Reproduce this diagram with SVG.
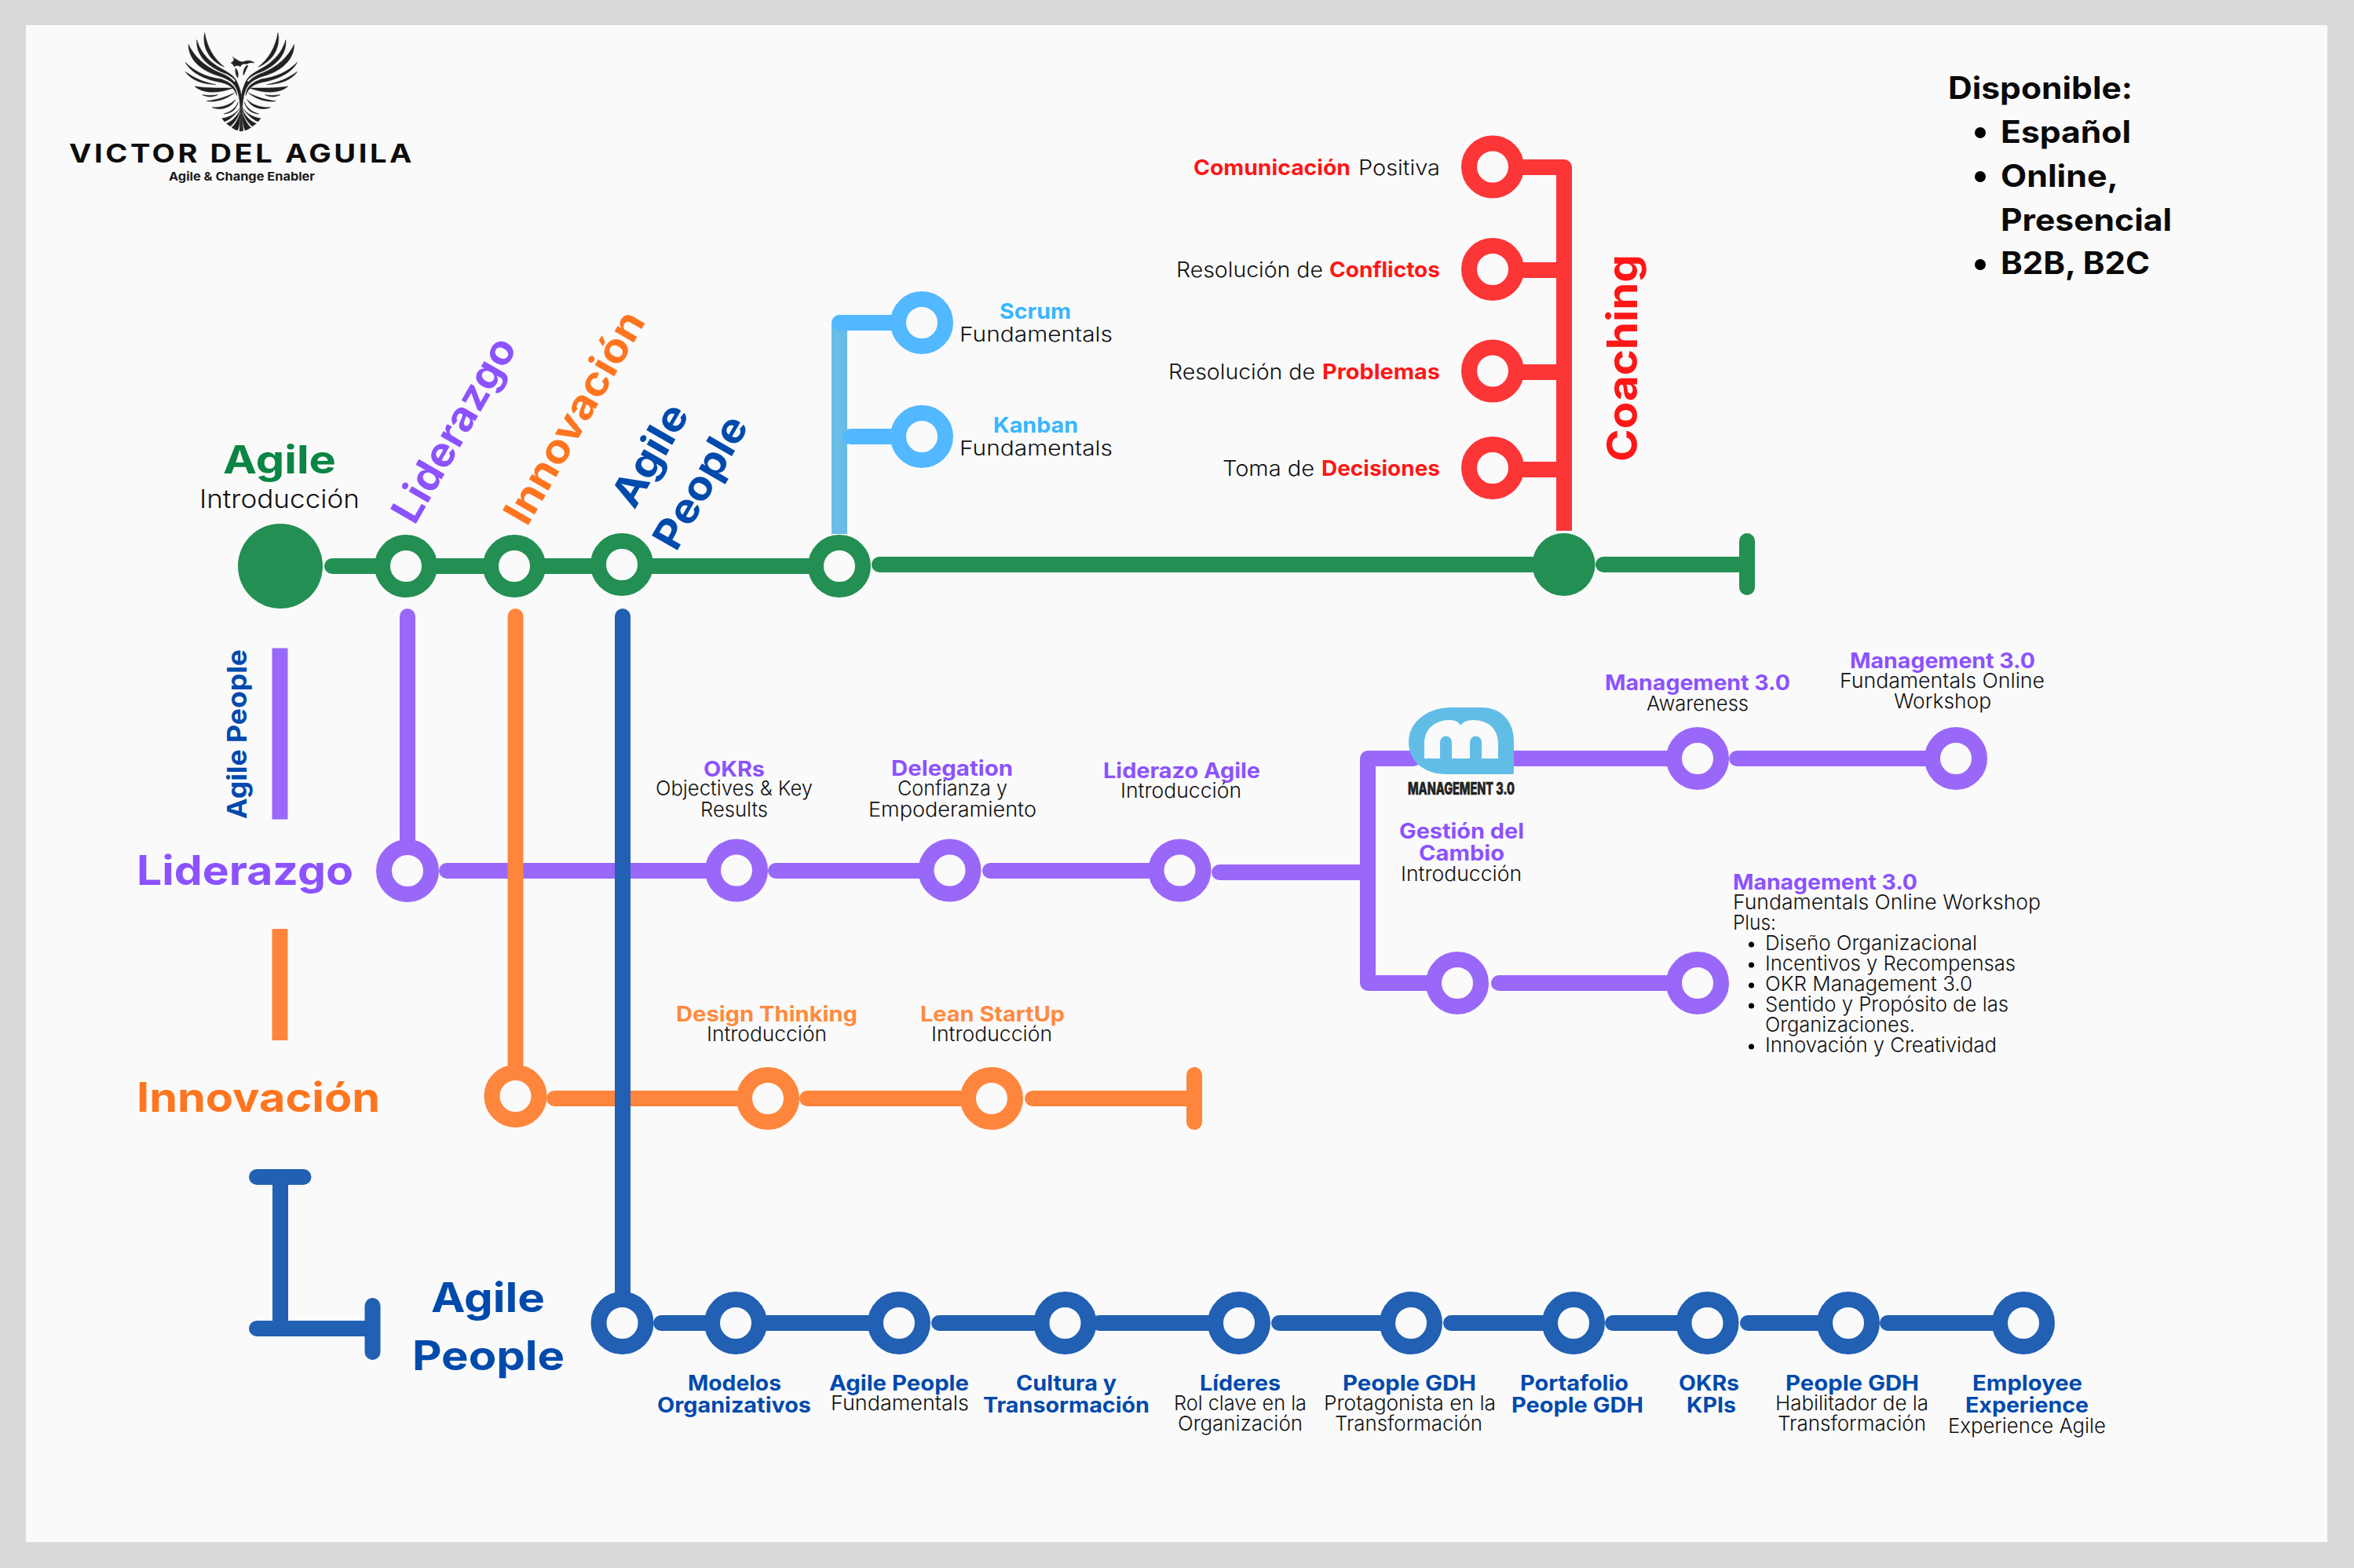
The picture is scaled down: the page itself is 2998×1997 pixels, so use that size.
<svg xmlns="http://www.w3.org/2000/svg" xmlns:xlink="http://www.w3.org/1999/xlink" width="2998" height="1997" viewBox="0 0 2998 1997">
<style>
text{font-family:"Inter","Noto Sans","Liberation Sans",sans-serif;}
.b{font-weight:700;font-size:27px;}
.r{font-weight:300;font-size:26px;fill:#111;}
.h{font-weight:700;font-size:52px;}
.d{font-weight:700;font-size:39px;fill:#0a0a0a;}
.tp{fill:#8c52ff}.to{fill:#ff8a40}.tb{fill:#004aad}.tr{fill:#ff1616}.tc{fill:#38b6ff}.tg{fill:#0a8543}.toi{fill:#ff751f}
.l{fill:none;stroke-width:20;stroke-linecap:round;stroke-linejoin:round}
.lg{stroke:#238f53}.lp{stroke:#9a68f8}.lo{stroke:#fd863c}.lb{stroke:#2160b3}.lr{stroke:#fc3537}.lc{stroke:#52b8ff}.lc2{stroke:#68bce6}
.n{fill:#fafafa;stroke-width:20}
.e{fill:#222;stroke:#222;stroke-width:1.5}
</style>
<defs>
<g id="wing">
<path d="M122,35 C112,85 135,140 197,166 C155,132 132,90 122,35Z"/>
<path d="M92,62 C88,120 130,165 205,192 C232,205 245,220 250,238 C245,205 215,188 185,172 C140,145 108,115 92,62Z"/>
<path d="M60,80 C60,135 105,180 175,200 C215,212 240,230 250,262 C250,225 215,200 180,188 C125,165 85,130 60,80Z"/>
<path d="M48,148 C70,190 125,215 185,225 C215,232 235,245 245,275 C245,240 215,222 185,212 C130,205 85,185 48,148Z"/>
<path d="M48,184 C70,215 110,232 165,233 C120,225 85,210 48,184Z"/>
<path d="M84,240 C115,268 175,268 232,246 C190,246 135,248 84,240Z"/>
<path d="M113,272 C135,282 150,282 172,272 C150,275 135,275 113,272Z"/>
<path d="M130,296 C165,302 205,290 235,265 C205,280 170,292 130,296Z"/>
<path d="M150,320 C185,335 225,320 240,290 C220,310 190,322 150,320Z"/>
<path d="M240,218 C262,245 268,290 258,340 C258,295 252,255 232,228Z"/>
<path d="M195,345 C225,345 245,325 250,300 C240,325 220,338 195,345Z"/>
<path d="M188,362 C215,360 240,345 258,322 C235,355 215,368 198,375Z"/>
<path d="M205,382 C225,375 245,355 258,330 C250,360 235,380 220,393Z"/>
<path d="M225,397 C240,385 252,360 260,335 C258,365 255,390 248,408 L238,405Z"/>
<path d="M262,325 L255,410 L262,411Z"/>
</g>
</defs>
<rect width="2998" height="1997" fill="#d9d9d9"/>
<rect x="33" y="32" width="2931" height="1932" fill="#fafafa"/>

<g id="logo">
<g class="e" transform="translate(220,30) scale(.33333)">
<use xlink:href="#wing" href="#wing"/>
<use xlink:href="#wing" href="#wing" transform="translate(524,0) scale(-1,1)"/>
<path d="M222,150 C232,145 240,135 228,128 C248,138 255,148 270,146 C285,140 300,140 312,150 C298,148 290,150 283,155 C272,152 262,155 258,165 C250,158 240,160 235,165 C232,158 228,153 222,150Z"/>
<path d="M240,170 C250,180 252,195 248,208 C240,195 238,182 240,170Z"/>
<path d="M283,160 C272,170 268,185 270,198 C278,185 280,172 288,162Z"/>
</g>
<text x="88" y="207" font-size="32" font-weight="700" fill="#0d0d0d" letter-spacing="3" textLength="440" lengthAdjust="spacingAndGlyphs">VICTOR DEL AGUILA</text>
<text x="215" y="230" font-size="15" font-weight="700" fill="#1a1a1a" textLength="186" lengthAdjust="spacingAndGlyphs">Agile &amp; Change Enabler</text>
</g>

<g id="disponible">
<text class="d" x="2481" y="126" textLength="235" lengthAdjust="spacingAndGlyphs">Disponible:</text>
<circle cx="2522" cy="169" r="7"/><circle cx="2522" cy="225" r="7"/><circle cx="2522" cy="337" r="7"/>
<text class="d" x="2548" y="182" textLength="166" lengthAdjust="spacingAndGlyphs">Español</text>
<text class="d" x="2548" y="238" textLength="150" lengthAdjust="spacingAndGlyphs">Online,</text>
<text class="d" x="2548" y="294" textLength="218" lengthAdjust="spacingAndGlyphs">Presencial</text>
<text class="d" x="2548" y="349" textLength="190" lengthAdjust="spacingAndGlyphs">B2B, B2C</text>
</g>

<g id="connectors">
<path class="l lp" style="stroke-linecap:butt" d="M356.500,825.500V1043.500"/>
<path class="l lo" style="stroke-linecap:butt" d="M356.500,1183V1325"/>
<path class="l lb" d="M327,1499H386.500M357,1499V1692M327,1692H474.500M474.500,1663V1722"/>
<path class="l lp" d="M569,1109H900M988,1109H1180M1261,1109H1470M1553,1111H1742"/>
<path class="l lp" d="M519,785V1075"/>
<path class="l lp" d="M1742,966V1252M1742,966H1800M1742,1252H1825M1928,966H2130M2212,966H2460M1909,1252H2130"/>
<path class="l lo" d="M706,1399H945M1028,1399H1230M1315,1399H1521M1521,1369V1429"/>
<path class="l lo" d="M656.500,785V1365"/>
<path class="l lb" d="M793,785V1650"/>
<path class="l lb" d="M842,1685H1110M1196,1685H1325M1400,1685H1545M1629,1685H1765M1848,1685H1975M2054,1685H2140M2226,1685H2320M2404,1685H2545"/>
<path class="l lg" d="M423,721H490M540,721H625M680,721H755L785,720M810,721H1040M1120,719H1960M2042,719H2225M2225,689V748"/>
<path class="l lc2" style="stroke-linecap:butt" d="M1069,411V680"/>
<path class="l lc" d="M1069,411H1140M1083,556H1140"/>
<path class="l lr" style="stroke-linecap:butt" d="M1992,676V223"/>
<path class="l lr" d="M1930,213H1992V225"/>
<path class="l lr" style="stroke-linecap:butt" d="M1930,344H1992M1930,474H1992M1930,598H1992"/>
</g>

<g id="node-agile"><circle cx="357" cy="721" r="54" fill="#238f53"/>
<text class="tg" x="284" y="603" font-size="50" font-weight="700" textLength="144" lengthAdjust="spacingAndGlyphs">Agile</text>
<text x="254" y="647" font-size="33" font-weight="300" fill="#111" textLength="204" lengthAdjust="spacingAndGlyphs">Introducción</text></g>
<g id="node-liderazgo-start"><circle class="n lg" cx="517" cy="721" r="30"/>
<text class="h tp" transform="translate(528,670) rotate(-60)" textLength="263" lengthAdjust="spacingAndGlyphs">Liderazgo</text></g>
<g id="node-innovacion-start"><circle class="n lg" cx="655" cy="721" r="30"/>
<text class="h toi" transform="translate(671,672) rotate(-60)" textLength="304" lengthAdjust="spacingAndGlyphs">Innovación</text></g>
<g id="node-people-start"><circle class="n lg" cx="792" cy="719" r="30"/>
<text class="h tb" transform="translate(808,650) rotate(-60)" textLength="142" lengthAdjust="spacingAndGlyphs">Agile</text>
<text class="h tb" transform="translate(861,704) rotate(-60)" textLength="187" lengthAdjust="spacingAndGlyphs">People</text></g>
<g id="node-scrum-hub"><circle class="n lg" cx="1069" cy="721" r="30"/></g>
<g id="node-scrum"><circle class="n lc" cx="1174" cy="411" r="30"/>
<text class="b tc" x="1273" y="406" textLength="91" lengthAdjust="spacingAndGlyphs">Scrum</text>
<text class="r" x="1222" y="435" textLength="195" lengthAdjust="spacingAndGlyphs">Fundamentals</text></g>
<g id="node-kanban"><circle class="n lc" cx="1174" cy="556" r="30"/>
<text class="b tc" x="1265" y="551" textLength="108" lengthAdjust="spacingAndGlyphs">Kanban</text>
<text class="r" x="1222" y="580" textLength="195" lengthAdjust="spacingAndGlyphs">Fundamentals</text></g>

<g id="node-coaching-hub"><circle cx="1991.500" cy="719" r="40" fill="#238f53"/>
<text transform="translate(2085,588) rotate(-90)" font-size="54" font-weight="700" class="tr" textLength="264" lengthAdjust="spacingAndGlyphs">Coaching</text></g>
<g id="node-comunicacion"><circle class="n lr" cx="1901" cy="212.500" r="30"/>
<text x="1520" y="222.500" font-size="27"><tspan class="tr" font-weight="700" textLength="200" lengthAdjust="spacingAndGlyphs">Comunicación</tspan><tspan x="1730" font-weight="300" fill="#111" textLength="104" lengthAdjust="spacingAndGlyphs">Positiva</tspan></text></g>
<g id="node-conflictos"><circle class="n lr" cx="1901" cy="343" r="30"/>
<text x="1498" y="353" font-size="27"><tspan font-weight="300" fill="#111" textLength="187" lengthAdjust="spacingAndGlyphs">Resolución de</tspan><tspan x="1693" class="tr" font-weight="700" textLength="141" lengthAdjust="spacingAndGlyphs">Conflictos</tspan></text></g>
<g id="node-problemas"><circle class="n lr" cx="1901" cy="472.500" r="30"/>
<text x="1488" y="483" font-size="27"><tspan font-weight="300" fill="#111" textLength="187" lengthAdjust="spacingAndGlyphs">Resolución de</tspan><tspan x="1684" class="tr" font-weight="700" textLength="150" lengthAdjust="spacingAndGlyphs">Problemas</tspan></text></g>
<g id="node-decisiones"><circle class="n lr" cx="1901" cy="596" r="30"/>
<text x="1557" y="605.500" font-size="27"><tspan font-weight="300" fill="#111" textLength="117" lengthAdjust="spacingAndGlyphs">Toma de</tspan><tspan x="1683" class="tr" font-weight="700" textLength="151" lengthAdjust="spacingAndGlyphs">Decisiones</tspan></text></g>

<g id="legend-labels">
<text class="tb" transform="translate(314,1043) rotate(-90)" font-size="34" font-weight="700" textLength="216" lengthAdjust="spacingAndGlyphs">Agile People</text>
</g>

<g id="node-liderazgo"><circle class="n lp" cx="519" cy="1109" r="30"/>
<text class="h tp" x="174" y="1127" textLength="276" lengthAdjust="spacingAndGlyphs">Liderazgo</text></g>
<g id="node-okrs"><circle class="n lp" cx="938" cy="1108.500" r="30"/>
<text class="b tp" x="896" y="989" textLength="78" lengthAdjust="spacingAndGlyphs">OKRs</text>
<text class="r" x="835" y="1013" textLength="200" lengthAdjust="spacingAndGlyphs">Objectives &amp; Key</text>
<text class="r" x="892" y="1040" textLength="86" lengthAdjust="spacingAndGlyphs">Results</text></g>
<g id="node-delegation"><circle class="n lp" cx="1209.500" cy="1108.500" r="30"/>
<text class="b tp" x="1135" y="988" textLength="155" lengthAdjust="spacingAndGlyphs">Delegation</text>
<text class="r" x="1143" y="1013" textLength="140" lengthAdjust="spacingAndGlyphs">Confianza y</text>
<text class="r" x="1106" y="1040" textLength="214" lengthAdjust="spacingAndGlyphs">Empoderamiento</text></g>
<g id="node-liderazgo-agile"><circle class="n lp" cx="1502.500" cy="1108.500" r="30"/>
<text class="b tp" x="1405" y="991" textLength="200" lengthAdjust="spacingAndGlyphs">Liderazo Agile</text>
<text class="r" x="1427" y="1016" textLength="154" lengthAdjust="spacingAndGlyphs">Introducción</text></g>

<g id="node-management-logo">
<path d="M1848,901H1886C1912,901 1928,918 1928,945V984Q1928,986 1926,986H1842C1812,986 1794,968 1794,945C1794,918 1820,901 1848,901Z" fill="#62bde6"/>
<path d="M1814,966V947C1814,928 1828,917 1846,917C1854,917 1858,920 1860,924C1863,920 1868,917 1876,917C1895,917 1908,928 1908,947V966H1887V945A7.500,7.500 0 0 0 1872,945V966H1849V945A7.500,7.500 0 0 0 1834,945V966Z" fill="#fafafa"/>
<text x="1793" y="1012" font-size="21" font-weight="800" fill="#222" stroke="#222" stroke-width=".6" textLength="136" lengthAdjust="spacingAndGlyphs">MANAGEMENT 3.0</text>
<text class="b tp" x="1782" y="1068" textLength="159" lengthAdjust="spacingAndGlyphs">Gestión del</text>
<text class="b tp" x="1807" y="1096" textLength="109" lengthAdjust="spacingAndGlyphs">Cambio</text>
<text class="r" x="1784" y="1122" textLength="154" lengthAdjust="spacingAndGlyphs">Introducción</text></g>
<g id="node-m30-awareness"><circle class="n lp" cx="2162" cy="966" r="30"/>
<text class="b tp" x="2044" y="879" textLength="236" lengthAdjust="spacingAndGlyphs">Management 3.0</text>
<text class="r" x="2097" y="905" textLength="130" lengthAdjust="spacingAndGlyphs">Awareness</text></g>
<g id="node-m30-fundamentals"><circle class="n lp" cx="2491" cy="966" r="30"/>
<text class="b tp" x="2356" y="851" textLength="236" lengthAdjust="spacingAndGlyphs">Management 3.0</text>
<text class="r" x="2343" y="876" textLength="261" lengthAdjust="spacingAndGlyphs">Fundamentals Online</text>
<text class="r" x="2412" y="902" textLength="124" lengthAdjust="spacingAndGlyphs">Workshop</text></g>
<g id="node-cambio"><circle class="n lp" cx="1856" cy="1252" r="30"/></g>
<g id="node-m30-plus"><circle class="n lp" cx="2162" cy="1252" r="30"/>
<text class="b tp" x="2207" y="1132.500" textLength="235" lengthAdjust="spacingAndGlyphs">Management 3.0</text>
<text class="r" x="2207" y="1158" textLength="392" lengthAdjust="spacingAndGlyphs">Fundamentals Online Workshop</text>
<text class="r" x="2207" y="1184" textLength="55" lengthAdjust="spacingAndGlyphs">Plus:</text>
<circle cx="2230.500" cy="1203" r="3.500"/><circle cx="2230.500" cy="1229" r="3.500"/><circle cx="2230.500" cy="1255" r="3.500"/><circle cx="2230.500" cy="1281" r="3.500"/><circle cx="2230.500" cy="1333" r="3.500"/>
<text class="r" x="2248" y="1210" textLength="270" lengthAdjust="spacingAndGlyphs">Diseño Organizacional</text>
<text class="r" x="2248" y="1236" textLength="319" lengthAdjust="spacingAndGlyphs">Incentivos y Recompensas</text>
<text class="r" x="2248" y="1262" textLength="264" lengthAdjust="spacingAndGlyphs">OKR Management 3.0</text>
<text class="r" x="2248" y="1288" textLength="310" lengthAdjust="spacingAndGlyphs">Sentido y Propósito de las</text>
<text class="r" x="2248" y="1314" textLength="191" lengthAdjust="spacingAndGlyphs">Organizaciones.</text>
<text class="r" x="2248" y="1340" textLength="295" lengthAdjust="spacingAndGlyphs">Innovación y Creatividad</text></g>

<g id="node-innovacion"><circle class="n lo" cx="656.500" cy="1396" r="30"/>
<text class="h toi" x="174" y="1416" textLength="310" lengthAdjust="spacingAndGlyphs">Innovación</text></g>
<g id="node-design-thinking"><circle class="n lo" cx="978" cy="1399" r="30"/>
<text class="b to" x="861" y="1301" textLength="231" lengthAdjust="spacingAndGlyphs">Design Thinking</text>
<text class="r" x="900" y="1326" textLength="153" lengthAdjust="spacingAndGlyphs">Introducción</text></g>
<g id="node-lean-startup"><circle class="n lo" cx="1263" cy="1399" r="30"/>
<text class="b to" x="1172" y="1301" textLength="184" lengthAdjust="spacingAndGlyphs">Lean StartUp</text>
<text class="r" x="1186" y="1326" textLength="154" lengthAdjust="spacingAndGlyphs">Introducción</text></g>

<g id="node-people"><circle class="n lb" cx="792.500" cy="1685" r="30"/>
<text class="h tb" x="549" y="1671" textLength="145" lengthAdjust="spacingAndGlyphs">Agile</text>
<text class="h tb" x="525" y="1745" textLength="194" lengthAdjust="spacingAndGlyphs">People</text></g>
<g id="node-modelos"><circle class="n lb" cx="937" cy="1685" r="30"/>
<text class="b tb" x="876" y="1771" textLength="119" lengthAdjust="spacingAndGlyphs">Modelos</text>
<text class="b tb" x="837" y="1799" textLength="196" lengthAdjust="spacingAndGlyphs">Organizativos</text></g>
<g id="node-agile-people"><circle class="n lb" cx="1145" cy="1685" r="30"/>
<text class="b tb" x="1056" y="1771" textLength="178" lengthAdjust="spacingAndGlyphs">Agile People</text>
<text class="r" x="1058" y="1796" textLength="176" lengthAdjust="spacingAndGlyphs">Fundamentals</text></g>
<g id="node-cultura"><circle class="n lb" cx="1356.500" cy="1685" r="30"/>
<text class="b tb" x="1294" y="1771" textLength="128" lengthAdjust="spacingAndGlyphs">Cultura y</text>
<text class="b tb" x="1252" y="1799" textLength="212" lengthAdjust="spacingAndGlyphs">Transormación</text></g>
<g id="node-lideres"><circle class="n lb" cx="1578" cy="1685" r="30"/>
<text class="b tb" x="1528" y="1771" textLength="103" lengthAdjust="spacingAndGlyphs">Líderes</text>
<text class="r" x="1495" y="1796" textLength="169" lengthAdjust="spacingAndGlyphs">Rol clave en la</text>
<text class="r" x="1500" y="1822" textLength="159" lengthAdjust="spacingAndGlyphs">Organización</text></g>
<g id="node-people-gdh"><circle class="n lb" cx="1797" cy="1685" r="30"/>
<text class="b tb" x="1710" y="1771" textLength="170" lengthAdjust="spacingAndGlyphs">People GDH</text>
<text class="r" x="1686" y="1796" textLength="219" lengthAdjust="spacingAndGlyphs">Protagonista en la</text>
<text class="r" x="1700" y="1822" textLength="188" lengthAdjust="spacingAndGlyphs">Transformación</text></g>
<g id="node-portafolio"><circle class="n lb" cx="2004" cy="1685" r="30"/>
<text class="b tb" x="1936" y="1771" textLength="138" lengthAdjust="spacingAndGlyphs">Portafolio</text>
<text class="b tb" x="1925" y="1799" textLength="168" lengthAdjust="spacingAndGlyphs">People GDH</text></g>
<g id="node-okrs-kpis"><circle class="n lb" cx="2174.500" cy="1685" r="30"/>
<text class="b tb" x="2138" y="1771" textLength="77" lengthAdjust="spacingAndGlyphs">OKRs</text>
<text class="b tb" x="2148" y="1799" textLength="63" lengthAdjust="spacingAndGlyphs">KPIs</text></g>
<g id="node-people-gdh-2"><circle class="n lb" cx="2354" cy="1685" r="30"/>
<text class="b tb" x="2274" y="1771" textLength="170" lengthAdjust="spacingAndGlyphs">People GDH</text>
<text class="r" x="2261" y="1796" textLength="195" lengthAdjust="spacingAndGlyphs">Habilitador de la</text>
<text class="r" x="2264" y="1822" textLength="189" lengthAdjust="spacingAndGlyphs">Transformación</text></g>
<g id="node-employee"><circle class="n lb" cx="2577" cy="1685" r="30"/>
<text class="b tb" x="2512" y="1771" textLength="140" lengthAdjust="spacingAndGlyphs">Employee</text>
<text class="b tb" x="2503" y="1799" textLength="157" lengthAdjust="spacingAndGlyphs">Experience</text>
<text class="r" x="2481" y="1825" textLength="201" lengthAdjust="spacingAndGlyphs">Experience Agile</text></g>
</svg>
